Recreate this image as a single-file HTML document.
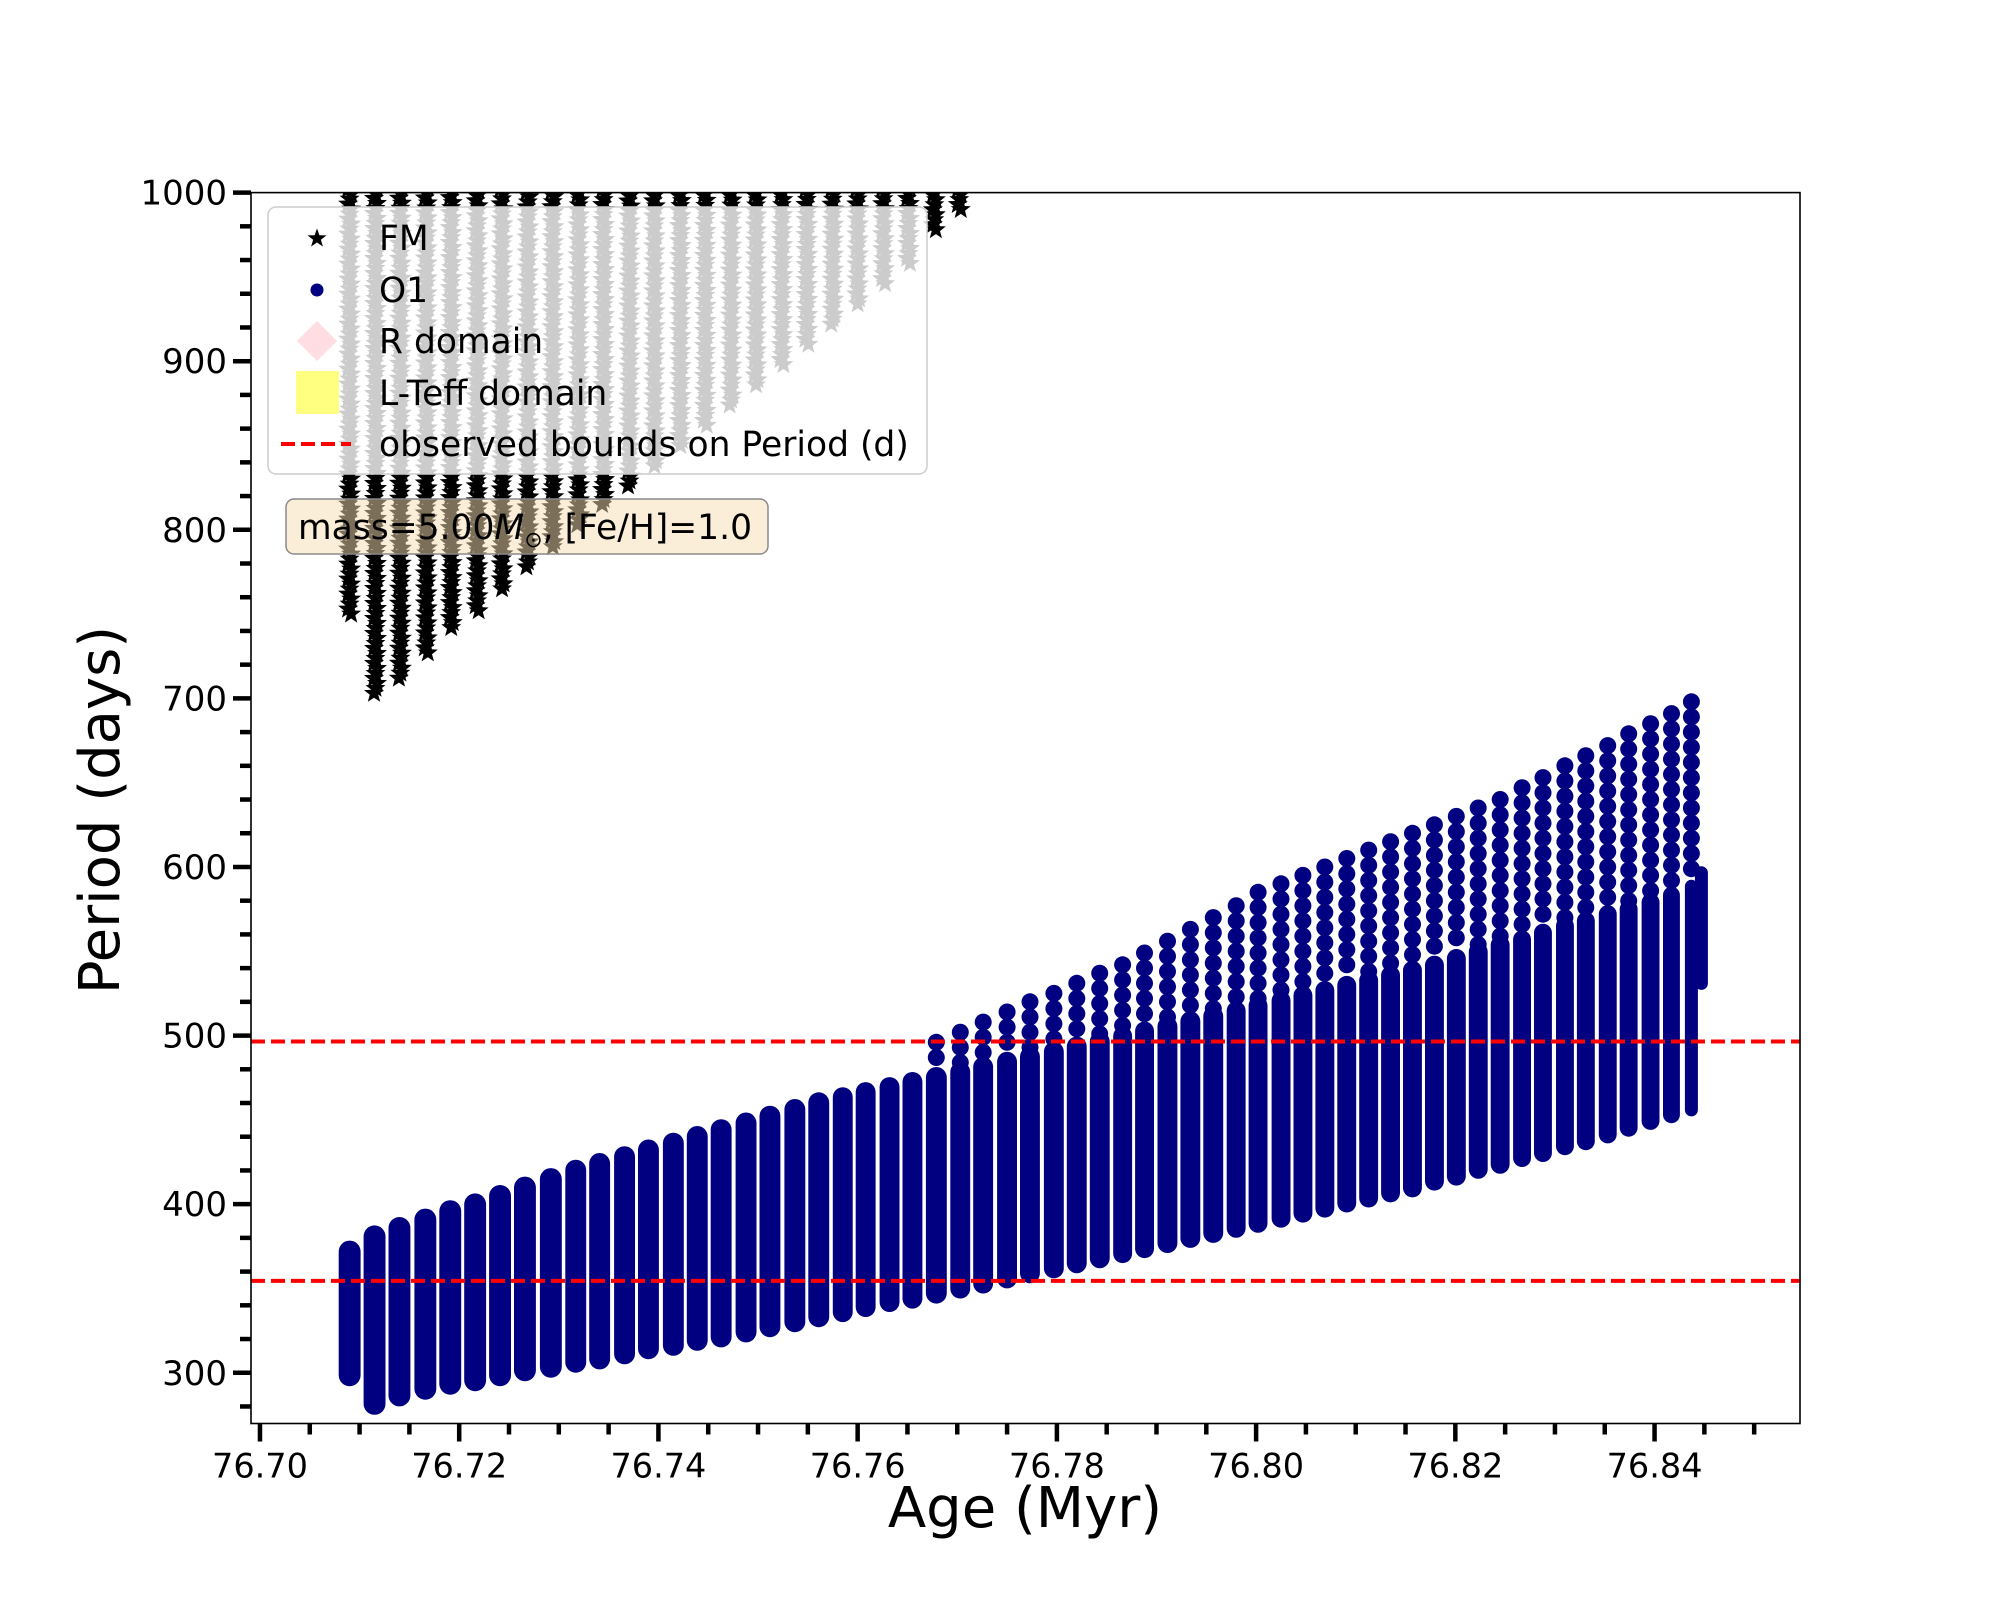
<!DOCTYPE html>
<html><head><meta charset="utf-8"><style>
html,body{margin:0;padding:0;background:#fff;}
svg{display:block;font-family:"DejaVu Sans","Liberation Sans",sans-serif;}
</style></head><body>
<svg id="chart" width="2000" height="1600" viewBox="0 0 2000 1600" xmlns="http://www.w3.org/2000/svg">
<defs><clipPath id="plotclip"><rect x="251" y="192.6" width="1549" height="1230.9"/></clipPath></defs>
<rect x="0" y="0" width="2000" height="1600" fill="#fff"/>
<g id="fm-layer" clip-path="url(#plotclip)"></g>
<g id="o1-layer" clip-path="url(#plotclip)"></g>
<g id="bounds-layer" clip-path="url(#plotclip)"></g>
<rect x="251" y="192.6" width="1549" height="1230.9" fill="none" stroke="#000" stroke-width="1.6"/>
<g id="xaxis"></g>
<g id="yaxis"></g>
<text x="1025" y="1527" font-size="56" text-anchor="middle">Age (Myr)</text>
<text x="0" y="0" font-size="56" text-anchor="middle" transform="translate(119,810) rotate(-90)">Period (days)</text>
<g>
<rect x="268" y="207" width="659" height="267" rx="8" fill="rgba(255,255,255,0.8)" stroke="#cccccc" stroke-width="1.5"/>
<g>
<polygon points="317,228.5 319.4,235.2 326.5,235.4 320.9,239.7 322.9,246.5 317,242.5 311.1,246.5 313.1,239.7 307.5,235.4 314.6,235.2" fill="#000"/>
<text x="379" y="250" font-size="34.5">FM</text></g>
<g>
<circle cx="317" cy="290" r="6.5" fill="#000080"/>
<text x="379" y="302" font-size="34.5">O1</text></g>
<g>
<polygon points="317,321 337,341 317,361 297,341" fill="#ffdde3"/>
<text x="379" y="353" font-size="34.5">R domain</text></g>
<g>
<rect x="296" y="371" width="43" height="43" fill="#ffff80"/>
<text x="379" y="405" font-size="34.5">L-Teff domain</text></g>
<g>
<line x1="281" y1="444" x2="351" y2="444" stroke="#ff0000" stroke-width="4" stroke-dasharray="14,6"/>
<text x="379" y="456" font-size="34.5">observed bounds on Period (d)</text></g>
</g>
<g>
<rect x="286" y="499" width="482" height="55" rx="8" fill="rgba(245,222,179,0.5)" stroke="#8a8a8a" stroke-width="1.5"/>
<text x="298" y="539" font-size="34.5">mass=5.00<tspan font-style="italic">M</tspan><tspan font-size="22" dy="8">⊙</tspan><tspan dy="-8">, [Fe/H]=1.0</tspan></text>
</g>
</svg>
<script>
// ---- data ----
const o1Ages = [76.7090,76.7115,76.7140,76.7166,76.7191,76.7216,76.7241,76.7266,76.7292,76.7317,
76.7341,76.7366,76.7390,76.7415,76.7439,76.7463,76.7488,76.7512,76.7537,76.7561,
76.7585,76.7608,76.7632,76.7655,76.7679,76.7703,76.7726,76.7750,76.7773,76.7797,
76.7820,76.7843,76.7866,76.7888,76.7911,76.7934,76.7957,76.7980,76.8002,76.8025,
76.8047,76.8069,76.8091,76.8113,76.8135,76.8157,76.8179,76.8201,76.8223,76.8245,
76.8267,76.8288,76.8310,76.8331,76.8353,76.8374,76.8396,76.8417,76.8437,76.8447];
const o1Min = [295,278,283,287,290,292,295,298,300,303,
305,308,311,313,316,318,321,324,327,330,
333,336,339,341,344,347,350,353,356,359,
362,365,368,371,374,377,380,383,386,389,
392,395,398,401,404,407,411,414,418,421,
425,428,432,435,439,443,447,451,455,530];
const o1Max = [376,385,390,395,400,404,409,414,419,424,
428,432,436,440,444,448,452,456,460,464,
467,470,473,476,479,482,485,488,491,494,
497,500,503,506,509,512,515,518,521,524,
527,530,533,536,539,542,545,549,553,557,
560,564,568,571,575,578,582,586,590,598];
const o1Spike = [null,null,null,null,null,null,null,null,null,null,
null,null,null,null,null,null,null,null,null,null,
null,null,null,null,496,502,508,514,520,525,
531,537,542,549,556,563,570,577,585,590,
595,600,605,610,615,620,625,630,635,640,
647,653,660,666,672,679,685,691,698,null];
const fmAges = [76.7090,76.7116,76.7141,76.7167,76.7192,76.7218,76.7243,76.7269,76.7294,76.7320,
76.7345,76.7371,76.7396,76.7422,76.7447,76.7473,76.7498,76.7524,76.7549,76.7575,
76.7600,76.7626,76.7651,76.7677,76.7702];
const fmMin = [750,703,712,727,742,752,765,778,790,803,
815,826,838,850,862,874,886,898,910,922,
934,946,958,978,990];
const boundValues = [496.5,354.5];
const xMajorTicks = [76.70,76.72,76.74,76.76,76.78,76.80,76.82,76.84];
const xTickLabels = ["76.70","76.72","76.74","76.76","76.78","76.80","76.82","76.84"];
const yMajorTicks = [300,400,500,600,700,800,900,1000];
const yTickLabels = ["300","400","500","600","700","800","900","1000"];

// ---- axes ----
const X0=251, X1=1800, Y0=192.6, Y1=1423.5;
const AMIN=76.6991, AMAX=76.8546, PMIN=269.9, PMAX=1000;
function xs(a){return X0+(a-AMIN)/(AMAX-AMIN)*(X1-X0);}
function ys(v){return Y0+(PMAX-v)/(PMAX-PMIN)*(Y1-Y0);}
const NS="http://www.w3.org/2000/svg";
function mk(tag,attrs,parent){const e=document.createElementNS(NS,tag);for(const k in attrs)e.setAttribute(k,attrs[k]);parent.appendChild(e);return e;}

// FM stars
const fmLayer=document.getElementById('fm-layer');
function starPts(cx,cy,r){let p=[];for(let i=0;i<10;i++){const rr=i%2?r*0.42:r;const a=-Math.PI/2+i*Math.PI/5;p.push((cx+rr*Math.cos(a)).toFixed(1)+','+(cy+rr*Math.sin(a)).toFixed(1));}return p.join(' ');}
fmAges.forEach((a,i)=>{
  const g=mk('g',{},fmLayer);
  
  
  const cx=xs(a), yb=ys(fmMin[i]);
  for(let y=yb;y>Y0-12;y-=5){
    mk('polygon',{points:starPts(cx+((Math.round(y)%3)-1)*1.5,y,10.5),fill:'#000'},g);
  }
});

// O1 columns
const o1Layer=document.getElementById('o1-layer');
o1Ages.forEach((a,i)=>{
  const cx=xs(a);
  const nb = i<o1Ages.length-1 ? xs(o1Ages[i+1])-cx : 14;
  const pb = i>0 ? cx-xs(o1Ages[i-1]) : 25;
  const w = Math.max(13, Math.min(nb,pb)-3);
  const yt=ys(o1Max[i]), yb=ys(o1Min[i]);
  const col=mk('rect',{x:(cx-w/2).toFixed(1),y:(yt-4).toFixed(1),width:w.toFixed(1),height:(yb-yt+9).toFixed(1),rx:(w/2).toFixed(1),fill:'#000080'},o1Layer);
  
  
  if(o1Spike[i]!==null){
    for(let v=o1Spike[i];v>o1Max[i];v-=9){
      const d=mk('circle',{cx:cx.toFixed(1),cy:ys(v).toFixed(1),r:8.5,fill:'#000080'},o1Layer);
      
      
    }
  }
});

// bounds
const bl=document.getElementById('bounds-layer');
boundValues.forEach(v=>{
  const l=mk('line',{x1:X0,x2:X1,y1:ys(v),y2:ys(v),stroke:'#ff0000','stroke-width':4,'stroke-dasharray':'14,6'},bl);
  
  
});

// x axis ticks
const xa=document.getElementById('xaxis');
for(let k=0;k<=31;k++){
  const a=76.70+k*0.005; const x=xs(a);
  if(x<X0||x>X1) continue;
  const major = k%4===0;
  const t=mk('line',{x1:x,x2:x,y1:Y1,y2:Y1+(major?18:11),stroke:'#000','stroke-width':4.5},xa);
  
  
}
xMajorTicks.forEach((a,i)=>{
  const t=mk('text',{x:xs(a),y:Y1+54,'font-size':33.5,'text-anchor':'middle'},xa);
  t.textContent=xTickLabels[i];
  
  
});
// y axis ticks
const ya=document.getElementById('yaxis');
for(let v=280;v<=1000;v+=20){
  const y=ys(v); const major=v%100===0;
  const t=mk('line',{x1:X0,x2:X0-(major?18:11),y1:y,y2:y,stroke:'#000','stroke-width':4.5},ya);
  
  
}
yMajorTicks.forEach((v,i)=>{
  const t=mk('text',{x:X0-24,y:ys(v)+12,'font-size':34,'text-anchor':'end'},ya);
  t.textContent=yTickLabels[i];
  
  
});
</script>
</body></html>
